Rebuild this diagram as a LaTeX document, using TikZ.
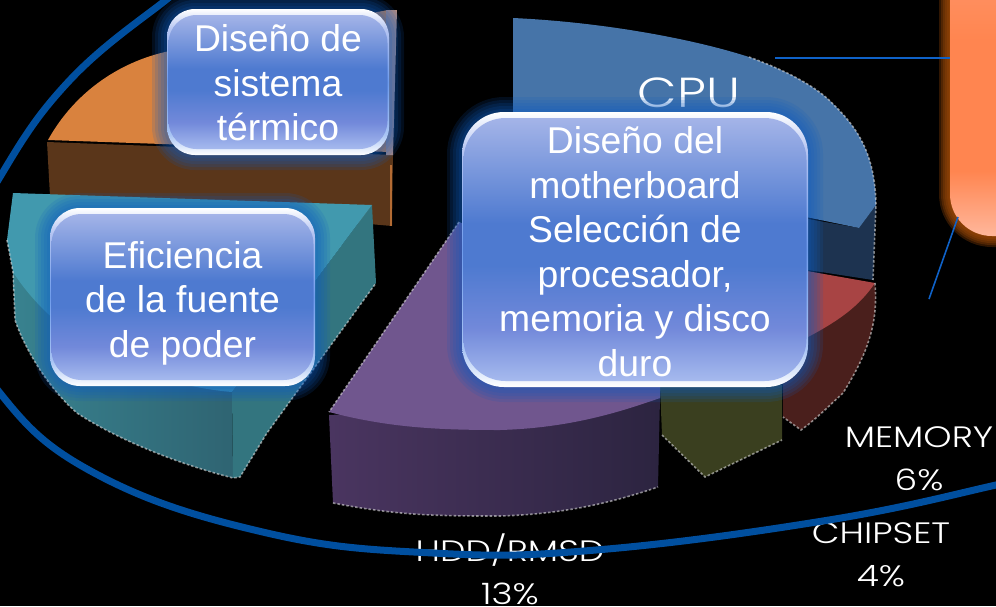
\documentclass[tikz,border=0pt]{standalone}
\usepackage{fontspec}
\setmainfont{Liberation Sans}
\newfontfamily\labelfont[FakeStretch=1.22]{Poppins Light}
\definecolor{rimlow}{HTML}{A8C4F4}
\definecolor{rimmid}{HTML}{6F9CEC}
\definecolor{rimhigh}{HTML}{B4C4F2}
\definecolor{facebot}{HTML}{A6BAEE}
\definecolor{facelow}{HTML}{7289DA}
\definecolor{facemid}{HTML}{4E7AD0}
\definecolor{facetop}{HTML}{A4B4E8}
\definecolor{orlow}{HTML}{FFB79C}
\definecolor{ormid}{HTML}{FF8550}
\definecolor{ortop}{HTML}{FF9A70}
\definecolor{glowblue}{HTML}{0F5CC0}
\definecolor{glowbrown}{HTML}{A04A08}
\definecolor{ringblue}{HTML}{004F9F}
\definecolor{leader}{HTML}{0F62C8}
\definecolor{cpulight}{HTML}{4674A8}
\definecolor{cpudark}{HTML}{1D3350}
\definecolor{redlight}{HTML}{A84444}
\definecolor{reddark}{HTML}{4A1F1C}
\definecolor{greendark}{HTML}{3A3F1F}
\definecolor{purplelight}{HTML}{70568E}
\definecolor{purpleA}{HTML}{4A3560}
\definecolor{purpleB}{HTML}{2C2440}
\definecolor{orangetop}{HTML}{D9823E}
\definecolor{orangeback}{HTML}{B08A80}
\definecolor{brownside}{HTML}{5A361A}
\definecolor{tealtop}{HTML}{4199AE}
\definecolor{tealside}{HTML}{33757F}
\definecolor{tealA}{HTML}{38828F}
\definecolor{tealB}{HTML}{2F6472}
\pgfdeclareverticalshading{boxrim}{100bp}{
  color(0bp)=(white); color(25bp)=(white); color(32bp)=(rimlow); color(50bp)=(rimmid); color(68bp)=(rimhigh); color(75bp)=(white); color(100bp)=(white)}
\pgfdeclareverticalshading{boxface}{100bp}{
  color(0bp)=(facebot); color(25bp)=(facebot); color(35bp)=(facelow); color(47bp)=(facemid); color(55bp)=(facemid); color(75bp)=(facetop); color(100bp)=(facetop)}
\pgfdeclareverticalshading{orangeface}{100bp}{
  color(0bp)=(orlow); color(25bp)=(orlow); color(36bp)=(ormid); color(58bp)=(ormid); color(75bp)=(ortop); color(100bp)=(ortop)}
\tikzset{
  boxtext/.style={text=white,align=center,font=\fontsize{37.3}{44.5}\selectfont,inner sep=0pt},
  pielabel/.style={text=white,align=center,font=\labelfont\fontsize{29.5}{43}\selectfont,inner sep=0pt},
  rough/.style={draw=white!70!gray,draw opacity=.6,line width=1.6pt,dash pattern=on 2.5pt off 2pt},
  leaderline/.style={draw=leader,line width=1.6pt},
  ring/.style={draw=ringblue,line width=7pt}
}
\newcommand{\bluebox}[7]{%
  \foreach \d in {15,12,9,6,3}{
    \pgfmathsetmacro{\rr}{#5+\d}
    \fill[glowblue,opacity=.15,rounded corners=\rr pt] (#1-\d,#2-\d) rectangle (#3+\d,#4+\d);
  }
  \shade[shading=boxrim,rounded corners=#5 pt] (#1,#2) rectangle (#3,#4);
  \shade[shading=boxface,rounded corners=#5 pt] (#1+1.5,#2+6) rectangle (#3-1.5,#4-6);
  \node[boxtext] at ({(#1+#3)/2},#7) {#6};
}
\begin{document}
\begin{tikzpicture}[x=1pt,y=-1pt]
\useasboundingbox (0,0) rectangle (996,606);
\fill[black] (0,0) rectangle (996,606);
\clip (0,0) rectangle (996,606);

% CPU slice
\fill[cpudark] (808,219) -- (859,228) -- (876,205) -- (873,280) -- (808,270) -- cycle;
\fill[cpulight] (513,18) .. controls (600,22) and (690,38) .. (749,57)
  .. controls (790,72) and (815,87) .. (829,100)
  .. controls (855,125) and (875,150) .. (876,205) -- (859,228) -- (700,195) -- (513,130) -- cycle;
\draw[rough] (749,57) .. controls (790,72) and (815,87) .. (829,100) .. controls (855,125) and (875,150) .. (876,205) -- (873,280);

% memory slice
\fill[reddark] (875,283) .. controls (878,320) and (870,350) .. (843,393)
  .. controls (830,405) and (815,420) .. (801,430) -- (783,417) -- (783,370) -- (810,300) -- cycle;
\fill[redlight] (790,268) -- (875,283) .. controls (860,305) and (840,322) .. (790,346) -- cycle;
\draw[rough] (875,283) .. controls (878,320) and (870,350) .. (843,393) .. controls (830,405) and (815,420) .. (801,430) -- (783,417);

% chipset slice
\fill[greendark] (660,385) -- (782,385) -- (782,440) -- (705,477) -- (662,435) -- cycle;
\draw[rough] (662,435) -- (705,477) -- (782,440);

% HDD slice
\fill[left color=purpleA,right color=purpleB] (329,415) -- (333,503)
  .. controls (400,516) and (440,516) .. (500,516)
  .. controls (570,514) and (620,500) .. (658,487) -- (660,398) -- cycle;
\fill[purplelight] (459,222) -- (329,412) .. controls (390,428) and (440,430) .. (500,430)
  .. controls (570,428) and (620,412) .. (660,398) -- (660,300) -- cycle;
\draw[rough] (459,222) -- (329,412);
\draw[rough] (333,503) .. controls (400,516) and (440,516) .. (500,516) .. controls (570,514) and (620,500) .. (658,487);

% thermal slice
\fill[brownside] (47,142) -- (393,155) -- (392,226) -- (50,196) -- cycle;
\fill[orangetop] (48,140) .. controls (70,100) and (110,65) .. (165,52) -- (388,10) -- (390,152) -- cycle;
\fill[orangeback] (386,10) -- (397,10) -- (393,155) -- (386,155) -- cycle;
\fill[orangetop!70!brownside] (390,165) -- (392,165) -- (392,226) -- (390,226) -- cycle;

% power slice
\fill[left color=tealA,right color=tealB] (13,272) -- (15,320) .. controls (25,350) and (50,390) .. (77,413)
  .. controls (110,435) and (170,462) .. (233,478) -- (232,392) -- cycle;
\fill[tealside] (232,392) -- (372,205) -- (376,283) -- (347,323) -- (267,433) -- (240,477) -- (233,478) -- cycle;
\fill[tealtop] (13,193) -- (372,205) -- (232,392) .. controls (150,385) and (60,345) .. (13,272) -- (7,240) -- cycle;
\draw[rough] (7,240) -- (13,272) -- (15,320) .. controls (25,350) and (50,390) .. (77,413)
  .. controls (110,435) and (170,462) .. (233,478) -- (240,477) -- (267,433) -- (347,323) -- (376,283);

% pie labels
\node[text=white,font=\labelfont\fontsize{42}{42}\selectfont,inner sep=0pt] (cpulabel) at (689,93) {CPU};
\node[pielabel] (memlabel) at (919,458.5) {MEMORY\\6\%};
\node[pielabel] (chiplabel) at (881,555) {CHIPSET\\4\%};
\node[pielabel] (hddlabel) at (510,569.5) {HDD/RMSD\\13\%};

% orange box
\foreach \d in {11,9,7,5,3,1}{
  \pgfmathsetmacro{\rr}{42+\d}
  \fill[glowbrown,opacity=.3,rounded corners=\rr pt] (950-\d,-60) rectangle (1060,236+\d);
}
\shade[shading=orangeface,rounded corners=42pt] (950,-60) rectangle (1060,236);

% leaders
\coordinate (leadA) at (775,58);
\coordinate (leadB) at (950,58);
\coordinate (leadC) at (958,217);
\coordinate (leadD) at (929,299);
\draw[leaderline] (leadA) -- (leadB);
\draw[leaderline] (leadC) -- (leadD);

% text boxes
\bluebox{167}{9}{389}{155}{28}{Diseño de\\sistema\\térmico}{83}
\bluebox{50}{208}{315}{386}{30}{Eficiencia\\de la fuente\\de poder}{303}
\bluebox{462}{112}{808}{387}{42}{Diseño del\\motherboard\\Selección de\\procesador,\\memoria y disco\\duro}{251.5}

% ring
\draw[ring] plot[smooth,tension=.7] coordinates {(190,-15) (166,0) (70,80) (0,177) (-52,285) (0,393) (100,476) (267,533) (433,553) (596,550) (829,520) (996,485) (1020,478)};
\end{tikzpicture}
\end{document}
